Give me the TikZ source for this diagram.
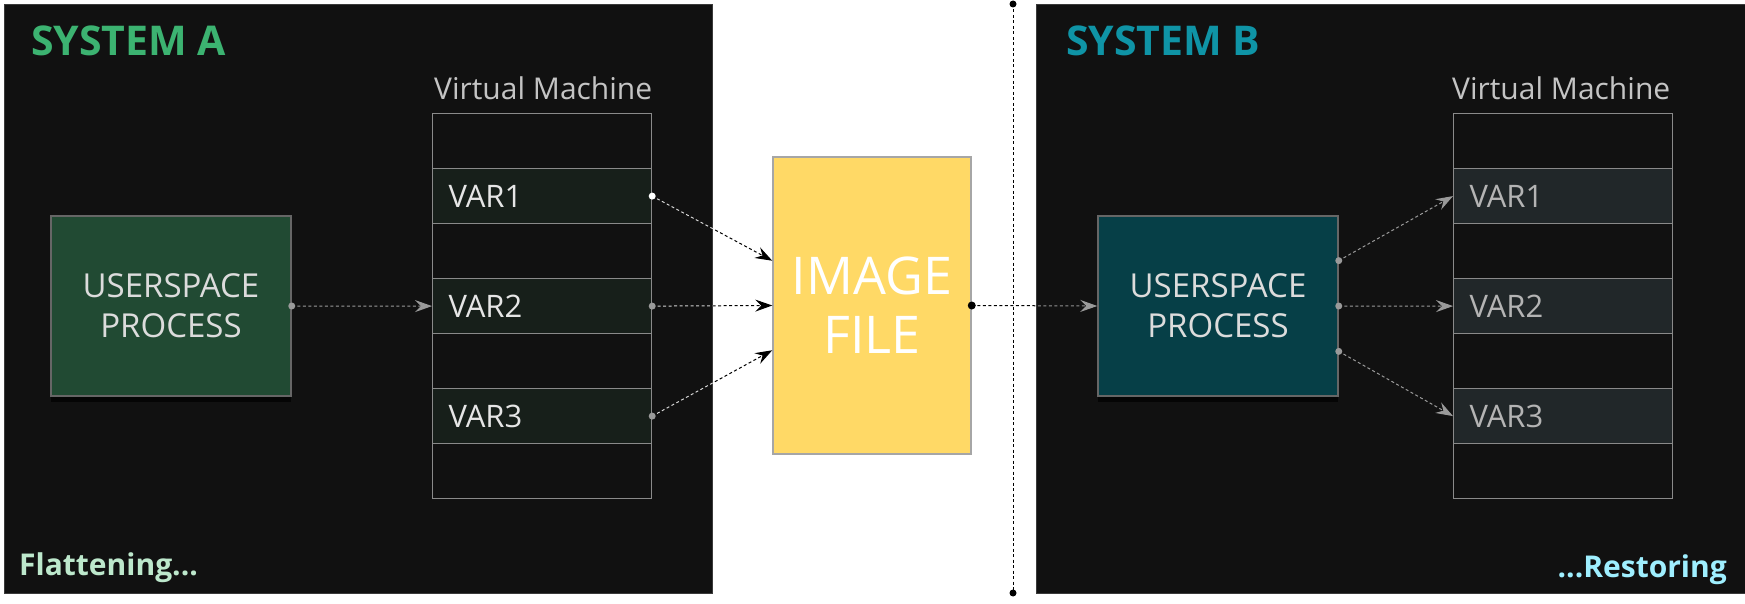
\documentclass[tikz,border=0pt]{standalone}
\usepackage{fontspec}
\setmainfont{Open Sans}
\usepackage{tikz}
\usetikzlibrary{calc,arrows.meta,shadows}
\definecolor{canvas}{HTML}{111111}
\definecolor{frame}{HTML}{3A3A3A}
\definecolor{sysA}{HTML}{3CB371}
\definecolor{sysB}{HTML}{0F94A6}
\definecolor{flat}{HTML}{BDE8CC}
\definecolor{rest}{HTML}{9FEFFF}
\definecolor{vmtext}{HTML}{C4C4C4}
\definecolor{rowline}{HTML}{8A8A8A}
\definecolor{varA}{HTML}{171F1A}
\definecolor{varB}{HTML}{212729}
\definecolor{varAtext}{HTML}{E6E6E6}
\definecolor{varBtext}{HTML}{B4B4B4}
\definecolor{procA}{HTML}{214A33}
\definecolor{procB}{HTML}{063F47}
\definecolor{procline}{HTML}{666666}
\definecolor{proctext}{HTML}{DCDCDC}
\definecolor{imgfill}{HTML}{FFD966}
\definecolor{imgline}{HTML}{A6A6A6}
\definecolor{wire}{HTML}{9A9A9A}
\tikzset{
  panel/.style={fill=canvas, draw=frame, line width=1.2pt, anchor=north west},
  title/.style={font=\fontsize{41}{46}\selectfont\bfseries, anchor=base west, inner sep=0pt},
  status/.style={font=\fontsize{30}{35}\selectfont\bfseries, inner sep=0pt},
  vmlabel/.style={text=vmtext, font=\fontsize{30}{36}\selectfont, anchor=base west, inner sep=0pt},
  slot/.style={draw=rowline, line width=1.2pt, fill=canvas, minimum height=55pt,
    text width=187pt, inner xsep=16pt, inner ysep=0pt, align=left,
    font=\fontsize{31}{36}\selectfont, anchor=north west},
  proc/.style={draw=procline, line width=1.5pt, minimum width=240pt, minimum height=180pt,
    text=proctext, align=center, font=\fontsize{33}{40}\selectfont,
    drop shadow={shadow xshift=0pt, shadow yshift=-6pt, opacity=0.7, fill=black}},
  imgbox/.style={fill=imgfill, draw=imgline, line width=1.5pt, minimum width=198pt,
    minimum height=297pt, text=white, align=center, font=\fontsize{52}{59}\selectfont},
  conn/.style={dash pattern=on 3pt off 2.5pt, line width=1pt},
  tipS/.style={-{Stealth[length=17pt, width=12pt, inset=6pt]}}
}
\begin{document}
\begin{tikzpicture}[x=1pt, y=-1pt]
  \useasboundingbox (0,0) rectangle (1745,604);
  \fill[white] (0,0) rectangle (1745,604);

  % the two systems
  \node[panel, minimum width=708pt, minimum height=589pt] (boxA) at (4,4) {};
  \node[panel, minimum width=714pt, minimum height=589pt] (boxB) at (1036,4) {};
  \node[title, text=sysA] (titleA) at (31,56) {SYSTEM A};
  \node[title, text=sysB] (titleB) at (1066,56) {SYSTEM B};
  \node[status, text=flat, anchor=base west] (flatA) at (19,575) {Flattening...};
  \node[status, text=rest, anchor=base east] (restB) at (1727,577) {...Restoring};

  % separator
  \coordinate (sepT) at (1013,4);
  \coordinate (sepB) at (1013,593);
  \draw[conn, black] (sepT) -- (sepB);
  \fill (sepT) circle (3.5pt);
  \fill (sepB) circle (3.5pt);

  % virtual machines
  \node[vmlabel] (vmA) at (434,100) {Virtual Machine};
  \node[vmlabel] (vmB) at (1452,100) {Virtual Machine};
  \foreach \i in {0,...,6}{
    \pgfmathtruncatemacro\v{(\i+1)/2}
    \ifodd\i
      \node[slot, fill=varA, text=varAtext] (a\i) at (432,113+55*\i) {VAR\v};
      \node[slot, fill=varB, text=varBtext] (b\i) at (1453,113+55*\i) {VAR\v};
    \else
      \node[slot] (a\i) at (432,113+55*\i) {};
      \node[slot] (b\i) at (1453,113+55*\i) {};
    \fi
  }

  % processes and image
  \node[proc, fill=procA] (procA) at (171,306) {USERSPACE\\PROCESS};
  \node[proc, fill=procB] (procB) at (1218,306) {USERSPACE\\PROCESS};
  \node[imgbox] (img) at (872,305.5) {IMAGE\\FILE};

  \coordinate (in1) at ($(img.north west)!0.35!(img.south west)$);
  \coordinate (in3) at ($(img.north west)!0.65!(img.south west)$);
  \coordinate (out1) at ($(procB.north east)!0.25!(procB.south east)$);
  \coordinate (out3) at ($(procB.north east)!0.75!(procB.south east)$);

  % flattening
  \draw[conn, wire, tipS] (procA.east) -- (a3.west);
  \fill[wire] (procA.east) circle (3.5pt);
  \draw[conn, black, tipS] (a1.east) -- (in1);
  \draw[conn, black, tipS] (a3.east) -- (img.west);
  \draw[conn, black, tipS] (a5.east) -- (in3);
  \begin{scope}
    \clip (boxA.north west) rectangle (boxA.south east);
    \draw[conn, white!85!black] (a1.east) -- (in1);
    \draw[conn, white!85!black] (a3.east) -- (img.west);
    \draw[conn, white!85!black] (a5.east) -- (in3);
  \end{scope}
  \fill[white] (a1.east) circle (3.5pt);
  \fill[wire] (a3.east) circle (3.5pt);
  \fill[wire] (a5.east) circle (3.5pt);

  % restoring
  \draw[conn, black] (img.east) -- (procB.west);
  \begin{scope}
    \clip (boxB.north west) rectangle (boxB.south east);
    \draw[conn, wire, tipS] (img.east) -- (procB.west);
  \end{scope}
  \fill (img.east) circle (4pt);
  \draw[conn, wire, tipS] (out1) -- (b1.west);
  \draw[conn, wire, tipS] (procB.east) -- (b3.west);
  \draw[conn, wire, tipS] (out3) -- (b5.west);
  \fill[wire] (out1) circle (3.5pt);
  \fill[wire] (procB.east) circle (3.5pt);
  \fill[wire] (out3) circle (3.5pt);
\end{tikzpicture}
\end{document}
